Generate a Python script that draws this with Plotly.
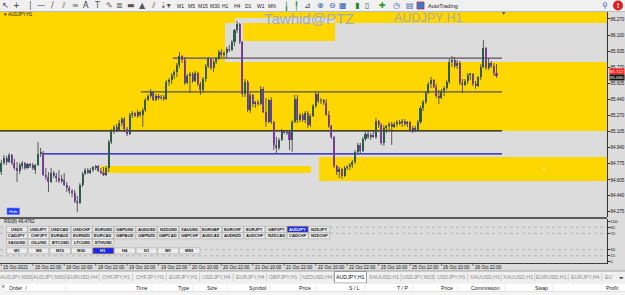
import plotly.graph_objects as go

W, H = 625, 295

# ---------------- data (AUDJPY H1, 190 bars) ----------------
bar_open = [
    84.688, 84.781, 84.832, 84.791, 84.863, 84.781, 84.729, 84.698, 84.750, 84.781,
    84.729, 84.770, 84.760, 84.708, 84.760, 84.874, 84.884, 84.657, 84.636, 84.584,
    84.677, 84.646, 84.626, 84.595, 84.605, 84.553, 84.522, 84.491, 84.471, 84.388,
    84.367, 84.553, 84.667, 84.708, 84.677, 84.708, 84.739, 84.750, 84.698, 84.677,
    84.657, 84.729, 84.998, 85.112, 85.153, 85.122, 85.194, 85.236, 85.132, 85.081,
    85.277, 85.298, 85.267, 85.308, 85.277, 85.329, 85.432, 85.473, 85.515, 85.432,
    85.473, 85.453, 85.463, 85.442, 85.618, 85.639, 85.691, 85.722, 85.794, 85.887,
    85.846, 85.608, 85.680, 85.701, 85.629, 85.711, 85.598, 85.536, 85.649, 85.784,
    85.856, 85.763, 85.825, 85.856, 85.928, 85.897, 85.918, 85.959, 85.949, 86.032,
    86.156, 86.218, 86.032, 85.494, 85.618, 85.329, 85.484, 85.391, 85.401, 85.391,
    85.546, 85.308, 85.205, 85.432, 85.205, 84.967, 84.936, 85.019, 85.112, 85.091,
    85.101, 85.019, 85.205, 85.442, 85.225, 85.277, 85.225, 85.298, 85.174, 85.267,
    85.370, 85.494, 85.422, 85.432, 85.401, 85.277, 85.163, 85.050, 84.750, 84.688,
    84.719, 84.646, 84.729, 84.739, 84.760, 84.791, 84.895, 84.967, 84.905, 85.029,
    85.081, 85.050, 85.070, 85.050, 85.215, 85.174, 84.988, 85.143, 85.163, 85.184,
    85.153, 85.184, 85.205, 85.194, 85.215, 85.184, 85.205, 85.122, 85.143, 85.122,
    85.205, 85.349, 85.411, 85.505, 85.598, 85.639, 85.567, 85.473, 85.453, 85.525,
    85.556, 85.618, 85.825, 85.846, 85.784, 85.815, 85.608, 85.587, 85.629, 85.691,
    85.701, 85.598, 85.577, 85.670, 85.773, 85.970, 85.763, 85.815, 85.784, 85.711,
]
bar_high = [
    84.812, 84.863, 84.853, 84.884, 84.874, 84.822, 84.791, 84.781, 84.801, 84.791,
    84.781, 84.781, 84.781, 84.770, 84.998, 84.936, 84.905, 84.729, 84.688, 84.729,
    84.698, 84.677, 84.708, 84.657, 84.677, 84.584, 84.543, 84.512, 84.502, 84.440,
    84.574, 84.688, 84.729, 84.729, 84.729, 84.750, 84.760, 84.760, 84.729, 84.739,
    84.750, 85.019, 85.132, 85.174, 85.184, 85.225, 85.256, 85.256, 85.153, 85.298,
    85.318, 85.308, 85.329, 85.318, 85.349, 85.453, 85.494, 85.546, 85.525, 85.494,
    85.494, 85.484, 85.484, 85.639, 85.660, 85.711, 85.742, 85.815, 85.928, 85.897,
    85.877, 85.701, 85.722, 85.722, 85.732, 85.722, 85.618, 85.670, 85.804, 85.877,
    85.866, 85.846, 85.877, 85.949, 85.959, 85.939, 85.980, 86.001, 86.052, 86.166,
    86.249, 86.228, 86.042, 85.649, 85.639, 85.505, 85.494, 85.422, 85.432, 85.577,
    85.567, 85.453, 85.442, 85.463, 85.215, 85.050, 85.039, 85.132, 85.122, 85.112,
    85.112, 85.225, 85.484, 85.484, 85.298, 85.298, 85.318, 85.318, 85.287, 85.391,
    85.515, 85.515, 85.453, 85.442, 85.442, 85.318, 85.174, 85.060, 84.760, 84.739,
    84.729, 84.750, 84.760, 84.781, 84.812, 84.915, 84.988, 84.988, 85.050, 85.101,
    85.112, 85.091, 85.112, 85.246, 85.225, 85.194, 85.174, 85.174, 85.205, 85.205,
    85.205, 85.225, 85.225, 85.236, 85.236, 85.215, 85.215, 85.163, 85.163, 85.225,
    85.370, 85.432, 85.525, 85.618, 85.670, 85.649, 85.598, 85.536, 85.546, 85.577,
    85.639, 85.856, 85.887, 85.877, 85.846, 85.835, 85.649, 85.649, 85.711, 85.711,
    85.711, 85.629, 85.680, 85.804, 86.052, 85.980, 85.866, 85.835, 85.815, 85.804,
]
bar_low = [
    84.657, 84.760, 84.760, 84.781, 84.760, 84.708, 84.584, 84.667, 84.719, 84.708,
    84.719, 84.729, 84.708, 84.667, 84.750, 84.843, 84.646, 84.605, 84.481, 84.574,
    84.626, 84.584, 84.574, 84.574, 84.543, 84.481, 84.460, 84.429, 84.367, 84.274,
    84.357, 84.533, 84.657, 84.667, 84.667, 84.688, 84.708, 84.688, 84.667, 84.646,
    84.646, 84.688, 84.977, 85.081, 85.101, 85.112, 85.163, 85.101, 85.060, 85.070,
    85.246, 85.256, 85.246, 85.256, 85.153, 85.308, 85.422, 85.453, 85.422, 85.422,
    85.432, 85.432, 85.422, 85.432, 85.577, 85.598, 85.649, 85.670, 85.763, 85.815,
    85.587, 85.598, 85.505, 85.608, 85.618, 85.577, 85.484, 85.505, 85.618, 85.763,
    85.742, 85.722, 85.804, 85.846, 85.877, 85.877, 85.866, 85.928, 85.939, 85.990,
    86.125, 86.011, 85.463, 85.463, 85.308, 85.298, 85.360, 85.349, 85.370, 85.380,
    85.298, 85.153, 85.194, 85.184, 84.915, 84.884, 84.915, 85.008, 85.081, 85.070,
    84.915, 84.895, 85.194, 85.194, 85.205, 85.205, 85.194, 85.143, 85.153, 85.256,
    85.349, 85.401, 85.391, 85.380, 85.267, 85.143, 85.029, 84.729, 84.657, 84.626,
    84.615, 84.636, 84.708, 84.708, 84.729, 84.770, 84.884, 84.884, 84.895, 85.008,
    85.029, 85.019, 85.039, 85.029, 85.143, 84.967, 84.957, 85.091, 85.112, 84.967,
    85.143, 85.153, 85.174, 85.153, 85.163, 85.153, 85.112, 85.091, 85.101, 85.112,
    85.184, 85.318, 85.391, 85.494, 85.556, 85.556, 85.453, 85.391, 85.442, 85.473,
    85.536, 85.598, 85.773, 85.763, 85.753, 85.587, 85.505, 85.577, 85.598, 85.639,
    85.577, 85.546, 85.567, 85.639, 85.763, 85.742, 85.742, 85.763, 85.680, 85.660,
]
bar_close = [
    84.781, 84.832, 84.791, 84.863, 84.781, 84.729, 84.698, 84.760, 84.781, 84.729,
    84.770, 84.750, 84.729, 84.760, 84.874, 84.884, 84.657, 84.636, 84.584, 84.677,
    84.646, 84.626, 84.595, 84.605, 84.553, 84.522, 84.491, 84.471, 84.388, 84.367,
    84.553, 84.667, 84.708, 84.677, 84.708, 84.739, 84.750, 84.698, 84.677, 84.657,
    84.729, 84.998, 85.112, 85.153, 85.122, 85.194, 85.236, 85.132, 85.081, 85.277,
    85.298, 85.267, 85.308, 85.277, 85.329, 85.432, 85.473, 85.515, 85.432, 85.473,
    85.453, 85.463, 85.442, 85.618, 85.639, 85.691, 85.722, 85.794, 85.887, 85.846,
    85.608, 85.680, 85.701, 85.629, 85.711, 85.598, 85.536, 85.649, 85.784, 85.856,
    85.763, 85.825, 85.856, 85.928, 85.897, 85.918, 85.959, 85.949, 86.032, 86.156,
    86.218, 86.032, 85.494, 85.618, 85.329, 85.484, 85.391, 85.401, 85.391, 85.546,
    85.308, 85.205, 85.432, 85.205, 84.967, 84.936, 85.019, 85.112, 85.091, 85.101,
    85.019, 85.205, 85.442, 85.225, 85.277, 85.225, 85.298, 85.174, 85.267, 85.370,
    85.494, 85.422, 85.432, 85.401, 85.277, 85.163, 85.050, 84.750, 84.688, 84.719,
    84.646, 84.729, 84.739, 84.760, 84.791, 84.895, 84.967, 84.905, 85.029, 85.081,
    85.050, 85.070, 85.050, 85.215, 85.174, 84.988, 85.143, 85.163, 85.184, 85.153,
    85.184, 85.205, 85.194, 85.215, 85.184, 85.205, 85.122, 85.143, 85.122, 85.205,
    85.349, 85.411, 85.505, 85.598, 85.639, 85.567, 85.473, 85.453, 85.525, 85.556,
    85.618, 85.825, 85.846, 85.784, 85.815, 85.608, 85.587, 85.629, 85.691, 85.701,
    85.598, 85.577, 85.670, 85.773, 85.970, 85.763, 85.815, 85.784, 85.711, 85.680,
]

time_labels = ["15 Oct 2021", "15 Oct 22:00", "18 Oct 10:00", "18 Oct 22:00",
               "19 Oct 10:00", "19 Oct 22:00", "20 Oct 10:00", "20 Oct 22:00",
               "21 Oct 10:00", "21 Oct 22:00", "22 Oct 10:00", "22 Oct 22:00",
               "25 Oct 10:00", "25 Oct 22:00", "26 Oct 10:00", "26 Oct 22:00"]
time_label_bars = [0, 12, 24, 36, 48, 60, 72, 84, 96, 108, 120, 132, 144, 156, 168, 180]

price_ticks = [86.270, 86.100, 85.935, 85.770, 85.605, 85.440, 85.270,
               85.105, 84.940, 84.775, 84.605, 84.440, 84.275]
rsi_ticks = [100, 85, 70, 30, 15, 0]
rsi_levels = [85, 70, 30, 15]
rsi_value = 49.4762
ask_price = 85.722
bid_price = 85.680

# drawn objects: (bar_from, bar_to, price_low, price_high, colour)
zones = [
    (-0.5, 232.0, 85.112, 86.40, "#ffd700"),
    (85.4, 232.0, 85.825, 86.228, "#dcdcdc"),
    (89.2, 127.4, 86.228, 86.280, "#dcdcdc"),
    (92.3, 127.4, 86.042, 86.228, "#ffd700"),
    (121.3, 232.0, 84.595, 84.843, "#ffd700"),
    (37.7, 118.2, 84.678, 84.750, "#ffd700"),
]
# horizontal trend levels: (bar_from, bar_to, price, colour, width)
levels = [
    (-0.5, 191.1, 85.112, "#101010", 1.2),
    (15.9, 191.1, 84.874, "#1010c8", 1.2),
    (53.3, 191.1, 85.515, "#55505e", 1.2),
    (65.5, 85.4, 85.866, "#4a46a0", 1.2),
    (85.4, 191.1, 85.866, "#5e5058", 1.2),
]

symbols_rows = [
    ["USDX", "USDJPY", "USDCAD", "USDCHF", "EURUSD", "GBPUSD", "AUDUSD", "NZDUSD",
     "XAUUSD", "EURGBP", "EURCHF", "EURJPY", "GBPJPY", "AUDJPY", "NZDJPY"],
    ["CADJPY", "CHFJPY", "EURAUD", "EURNZD", "EURCAD", "GBPAUD", "GBPNZD", "GBPCAD",
     "GBPCHF", "AUDCAD", "AUDNZD", "AUDCHF", "NZDCAD", "CADCHF", "NZDCHF"],
    ["XAGUSD", "OILUSD", "BTCUSD", "LTCUSD", "ETHUSD"],
    ["M1", "M5", "M15", "M30", "H1", "H4", "D1", "W1", "MN1"],
]
selected_buttons = ["AUDJPY", "H1"]

tabs = ["AUDJPY,M30", "AUDJPY,M30", "EURUSD,H4", "CHFJPY,H1", "CHFJPY,H1", "EURJPY,H1",
        "USDJPY,H4", "EURJPY,H4", "GBPJPY,H1", "NZDUSD,H4", "AUDJPY,H1", "XAUUSD,H1",
        "USDJPY,M15", "USDJPY,H1", "XAUUSD,H1", "XAUUSD,H1", "EURUSD,H1", "EURJPY,H4", "EU"]
active_tab = 10
table_headers = [("Order  /", 7, "left"), ("Time", 149, "right"), ("Type", 191, "right"),
                 ("Size", 219, "right"), ("Symbol", 268, "right"), ("Price", 313, "right"),
                 ("S / L", 362, "right"), ("T / P", 410, "right"), ("Price", 455, "right"),
                 ("Commission", 502, "right"), ("Swap", 550, "right"), ("Profit", 621, "right")]
periods_toolbar = ["M1", "M5", "M15", "M30", "H1", "H4", "D1", "W1", "MN"]

# ---------------- helpers ----------------
def PX(x):
    return x / W


def PY(y):
    return 1 - y / H


FONT = "Liberation Sans, Arial, sans-serif"
BULL = "#1c6a44"
BEAR = "#9b35d4"
WICK = "#4a4a4a"

n = len(bar_close)
idx = list(range(n))
bull = [i for i in idx if bar_close[i] >= bar_open[i]]
bear = [i for i in idx if bar_close[i] < bar_open[i]]

wx, wy = [], []
for i in idx:
    wx += [i, i, None]
    wy += [bar_low[i], bar_high[i], None]

fig = go.Figure()
fig.add_trace(go.Scatter(x=wx, y=wy, mode="lines", line=dict(color=WICK, width=0.9),
                         hoverinfo="skip", showlegend=False, xaxis="x", yaxis="y"))
fig.add_trace(go.Bar(x=bull, base=[bar_open[i] for i in bull],
                     y=[max(bar_close[i] - bar_open[i], 0.004) for i in bull],
                     width=0.78, marker=dict(color=BULL, line=dict(width=0)),
                     showlegend=False, hoverinfo="skip", xaxis="x", yaxis="y"))
fig.add_trace(go.Bar(x=bear, base=[bar_close[i] for i in bear],
                     y=[max(bar_open[i] - bar_close[i], 0.004) for i in bear],
                     width=0.78, marker=dict(color=BEAR, line=dict(width=0)),
                     showlegend=False, hoverinfo="skip", xaxis="x", yaxis="y"))
fig.add_trace(go.Scatter(x=[0], y=[rsi_value], mode="markers", marker=dict(size=1, opacity=0),
                         showlegend=False, hoverinfo="skip", xaxis="x", yaxis="y2"))

shapes = []
ann = []

# zones and levels (behind candles)
for b0, b1, p0, p1, col in zones:
    shapes.append(dict(type="rect", xref="x", yref="y", x0=b0, x1=b1, y0=p0, y1=p1,
                       fillcolor=col, line=dict(width=0), layer="below"))
for b0, b1, p, col, w in levels:
    shapes.append(dict(type="line", xref="x", yref="y", x0=b0, x1=b1, y0=p, y1=p,
                       line=dict(color=col, width=w), layer="below"))
shapes.append(dict(type="line", xref="x domain", yref="y", x0=0, x1=1, y0=bid_price, y1=bid_price,
                   line=dict(color="#c4c4c4", width=1), layer="below"))
shapes.append(dict(type="line", xref="x domain", yref="y", x0=0, x1=1, y0=ask_price, y1=ask_price,
                   line=dict(color="#ff4a10", width=1), layer="below"))
shapes.append(dict(type="circle", xref="x", yref="y", x0=206.7, x1=207.5, y0=84.712, y1=84.726,
                   fillcolor="white", line=dict(width=0), layer="above"))

# RSI levels
for lv in rsi_levels:
    shapes.append(dict(type="line", xref="x domain", yref="y2", x0=0, x1=1, y0=lv, y1=lv,
                       line=dict(color="#a8a8a8", width=0.8, dash="dot"), layer="below"))

# window frame lines
shapes.append(dict(type="line", xref="paper", yref="paper", x0=0, x1=PX(607), y0=PY(218), y1=PY(218),
                   line=dict(color="#303030", width=1.6)))
shapes.append(dict(type="line", xref="paper", yref="paper", x0=0, x1=PX(607), y0=PY(263.5), y1=PY(263.5),
                   line=dict(color="#404040", width=1)))

# toolbar
shapes.append(dict(type="rect", xref="paper", yref="paper", x0=0, x1=1, y0=PY(11.5), y1=1,
                   fillcolor="#f0f0f0", line=dict(width=0)))
shapes.append(dict(type="line", xref="paper", yref="paper", x0=0, x1=1, y0=PY(11.5), y1=PY(11.5),
                   line=dict(color="#b0b0b0", width=0.8)))
tool_glyphs = [(5, "↖", "#333"), (16, "+", "#333"), (30, "|", "#555"), (41, "—", "#555"),
               (52, "/", "#555"), (63, "⫽", "#666"), (75, "≡", "#666"), (86, "A", "#333"),
               (97, "T", "#555"), (109, "✎", "#666"), (119, "≣", "#666"), (131, "▬", "#555"),
               (142, "▲", "#555"), (153, "⫽", "#666"), (165, "⇣▾", "#555"),
               (286, "╽", "#2a8a2a"), (296, "╿", "#2a8a2a"), (307, "⊿", "#555"),
               (321, "⊕", "#2a5ab0"), (332, "⊖", "#2a5ab0"), (343, "▦", "#2a5ab0"),
               (357, "▮", "#2a8a2a"), (367, "▯", "#555"), (382, "✚", "#2a9a2a"),
               (396, "◷", "#3a5ab0"), (410, "▤", "#3a5ab0"), (605, "⚲", "#3a5ab0")]
for x, g, c in tool_glyphs:
    ann.append(dict(x=PX(x), y=PY(5.5), xref="paper", yref="paper", text=g, showarrow=False,
                    font=dict(size=8, color=c, family="DejaVu Sans"), xanchor="center", yanchor="middle"))
for k, p in enumerate(periods_toolbar):
    cx = 180 + k * 11.5
    ann.append(dict(x=PX(cx), y=PY(5.5), xref="paper", yref="paper", text=p, showarrow=False,
                    font=dict(size=5, color="#222", family=FONT), xanchor="center", yanchor="middle"))
shapes.append(dict(type="rect", xref="paper", yref="paper", x0=PX(417), x1=PX(424), y0=PY(9), y1=PY(2),
                   fillcolor="#3b7bc8", line=dict(color="#c03030", width=0.8)))
ann.append(dict(x=PX(426), y=PY(5.5), xref="paper", yref="paper", text="AutoTrading", showarrow=False,
                font=dict(size=5.5, color="#222", family=FONT), xanchor="left", yanchor="middle"))
shapes.append(dict(type="circle", xref="paper", yref="paper", x0=PX(613), x1=PX(623), y0=PY(10.5), y1=PY(0.5),
                   fillcolor="#d82020", line=dict(width=0)))
ann.append(dict(x=PX(618), y=PY(5.5), xref="paper", yref="paper", text="<b>!</b>", showarrow=False,
                font=dict(size=7, color="white", family=FONT), xanchor="center", yanchor="middle"))

# chart texts
ann.append(dict(x=PX(2), y=PY(14.5), xref="paper", yref="paper", text="▾ AUDJPY,H1", showarrow=False,
                font=dict(size=4.5, color="#111", family=FONT), xanchor="left", yanchor="middle"))
ann.append(dict(x=PX(262), y=PY(18.5), xref="paper", yref="paper", text="Tawhid@PTZ", showarrow=False,
                font=dict(size=15, color="#a2abbb", family=FONT), xanchor="left", yanchor="middle"))
ann.append(dict(x=PX(392), y=PY(18), xref="paper", yref="paper", text="AUDJPY H1", showarrow=False,
                font=dict(size=12.5, color="#ababab", family=FONT), xanchor="left", yanchor="middle"))
ann.append(dict(x=PX(503), y=PY(12.5), xref="paper", yref="paper", text="▾", showarrow=False,
                font=dict(size=6, color="#505070", family="DejaVu Sans"), xanchor="center", yanchor="middle"))

# price labels on the axis
ann.append(dict(x=PX(608.5), y=ask_price, xref="paper", yref="y", text="85.722", showarrow=False,
                font=dict(size=4.4, color="white", family=FONT), bgcolor="#ff2020",
                xanchor="left", yanchor="middle", borderpad=0))
ann.append(dict(x=PX(608.5), y=bid_price - 0.012, xref="paper", yref="y", text="85.680", showarrow=False,
                font=dict(size=4.4, color="white", family=FONT), bgcolor="#111111",
                xanchor="left", yanchor="middle", borderpad=0))

# Hide button
shapes.append(dict(type="rect", xref="paper", yref="paper", x0=PX(7), x1=PX(19.5), y0=PY(214.5), y1=PY(208),
                   fillcolor="#1e3cff", line=dict(color="#7080ff", width=0.6)))
ann.append(dict(x=PX(13.2), y=PY(211.2), xref="paper", yref="paper", text="Hide", showarrow=False,
                font=dict(size=4.2, color="white", family=FONT), xanchor="center", yanchor="middle"))

# RSI caption
ann.append(dict(x=PX(2), y=PY(221.5), xref="paper", yref="paper", text="RSI(8) 49.4762", showarrow=False,
                font=dict(size=4.5, color="#111", family=FONT), xanchor="left", yanchor="middle"))

# symbol / period buttons
row_y = [(226.3, 232.3), (232.8, 238.8), (239.3, 245.3), (247.8, 253.8)]
for r, row in enumerate(symbols_rows):
    y0, y1 = row_y[r]
    for k, s in enumerate(row):
        x0 = 6.5 + 21.6 * k
        x1 = x0 + 20.8
        sel = s in selected_buttons and (r == 0 or r == 3)
        shapes.append(dict(type="rect", xref="paper", yref="paper", x0=PX(x0), x1=PX(x1),
                           y0=PY(y1), y1=PY(y0),
                           fillcolor="#1428ff" if sel else "#ececec",
                           line=dict(color="#c08000" if sel else "#a6a6a6", width=0.6)))
        ann.append(dict(x=PX((x0 + x1) / 2), y=PY((y0 + y1) / 2), xref="paper", yref="paper",
                        text="<b>" + s + "</b>", showarrow=False,
                        font=dict(size=4.1, color="white" if sel else "#111", family=FONT),
                        xanchor="center", yanchor="middle"))

# time axis labels
for b, t in zip(time_label_bars, time_labels):
    ann.append(dict(x=b, y=PY(267.5), xref="x", yref="paper", text=t, showarrow=False,
                    font=dict(size=4.6, color="#111", family=FONT), xanchor="left", yanchor="middle"))
    shapes.append(dict(type="line", xref="x", yref="paper", x0=b, x1=b, y0=PY(263.5), y1=PY(266),
                       line=dict(color="#333", width=0.6)))

# tabs row
shapes.append(dict(type="rect", xref="paper", yref="paper", x0=0, x1=1, y0=PY(283.5), y1=PY(271),
                   fillcolor="#f0f0f0", line=dict(width=0)))
shapes.append(dict(type="line", xref="paper", yref="paper", x0=0, x1=1, y0=PY(271), y1=PY(271),
                   line=dict(color="#909090", width=0.8)))
tab_w = 33.5
for k, t in enumerate(tabs):
    cx = 15.5 + tab_w * k
    last = k == len(tabs) - 1
    if k == active_tab:
        shapes.append(dict(type="rect", xref="paper", yref="paper", x0=PX(cx - 16), x1=PX(cx + 16),
                           y0=PY(283), y1=PY(271.5), fillcolor="white", line=dict(color="#888", width=0.8)))
    elif not last:
        shapes.append(dict(type="line", xref="paper", yref="paper", x0=PX(cx + 16.7), x1=PX(cx + 16.7),
                           y0=PY(281), y1=PY(273.5), line=dict(color="#b8b8b8", width=0.7)))
    ann.append(dict(x=PX(603 if last else cx), y=PY(277.3), xref="paper", yref="paper", text=t,
                    showarrow=False,
                    font=dict(size=5.3, color="#111" if k == active_tab else "#8a8a8a", family=FONT),
                    xanchor="left" if last else "center", yanchor="middle"))
ann.append(dict(x=PX(621), y=PY(277.3), xref="paper", yref="paper", text="◂▸", showarrow=False,
                font=dict(size=4.5, color="#333", family="DejaVu Sans"), xanchor="center", yanchor="middle"))

# terminal table header
shapes.append(dict(type="rect", xref="paper", yref="paper", x0=0, x1=1, y0=0, y1=PY(283.5),
                   fillcolor="#f4f4f4", line=dict(width=0)))
shapes.append(dict(type="rect", xref="paper", yref="paper", x0=PX(6), x1=1, y0=PY(291.5), y1=PY(283.8),
                   fillcolor="white", line=dict(width=0)))
shapes.append(dict(type="line", xref="paper", yref="paper", x0=PX(6), x1=1, y0=PY(291.5), y1=PY(291.5),
                   line=dict(color="#d0d0d0", width=0.6)))
for txt, x, anc in table_headers:
    ann.append(dict(x=PX(x), y=PY(287.7), xref="paper", yref="paper", text=txt, showarrow=False,
                    font=dict(size=5.2, color="#222", family=FONT), xanchor=anc, yanchor="middle"))
for x in [66, 152, 193, 227, 270, 316, 365, 413, 458, 505, 553]:
    shapes.append(dict(type="line", xref="paper", yref="paper", x0=PX(x), x1=PX(x),
                       y0=PY(291), y1=PY(284.5), line=dict(color="#dadada", width=0.6)))
ann.append(dict(x=PX(2.5), y=PY(285.5), xref="paper", yref="paper", text="×", showarrow=False,
                font=dict(size=5, color="#333", family="DejaVu Sans"), xanchor="center", yanchor="middle"))

axis_font = dict(size=4.5, color="#111", family=FONT)
fig.update_layout(
    width=W, height=H, autosize=False,
    margin=dict(l=0, r=0, t=0, b=0),
    paper_bgcolor="#dcdcdc", plot_bgcolor="#dcdcdc",
    barmode="overlay", bargap=0,
    showlegend=False,
    xaxis=dict(domain=[0, PX(607)], range=[-0.5, 231.18], showticklabels=False, showgrid=False,
               zeroline=False, showline=False, ticks="", fixedrange=True, anchor="y"),
    yaxis=dict(domain=[PY(217), PY(12)], range=[84.222, 86.342], side="right", anchor="x",
               tickvals=price_ticks, ticktext=["%.3f" % v for v in price_ticks],
               ticks="outside", ticklen=1.5, tickcolor="#333", tickfont=axis_font,
               showline=True, linecolor="#333", linewidth=1, showgrid=False, zeroline=False,
               fixedrange=True, automargin=False),
    yaxis2=dict(domain=[PY(263.5), PY(218.5)], range=[-3.75, 106.25], side="right", anchor="x",
                tickvals=rsi_ticks, ticktext=[str(v) for v in rsi_ticks],
                ticks="outside", ticklen=1.5, tickcolor="#333", tickfont=dict(size=4.3, color="#111", family=FONT),
                showline=True, linecolor="#333", linewidth=1, showgrid=False, zeroline=False,
                fixedrange=True, automargin=False),
    shapes=shapes,
    annotations=ann,
)

fig.write_html("out.html", config={"displayModeBar": False})
